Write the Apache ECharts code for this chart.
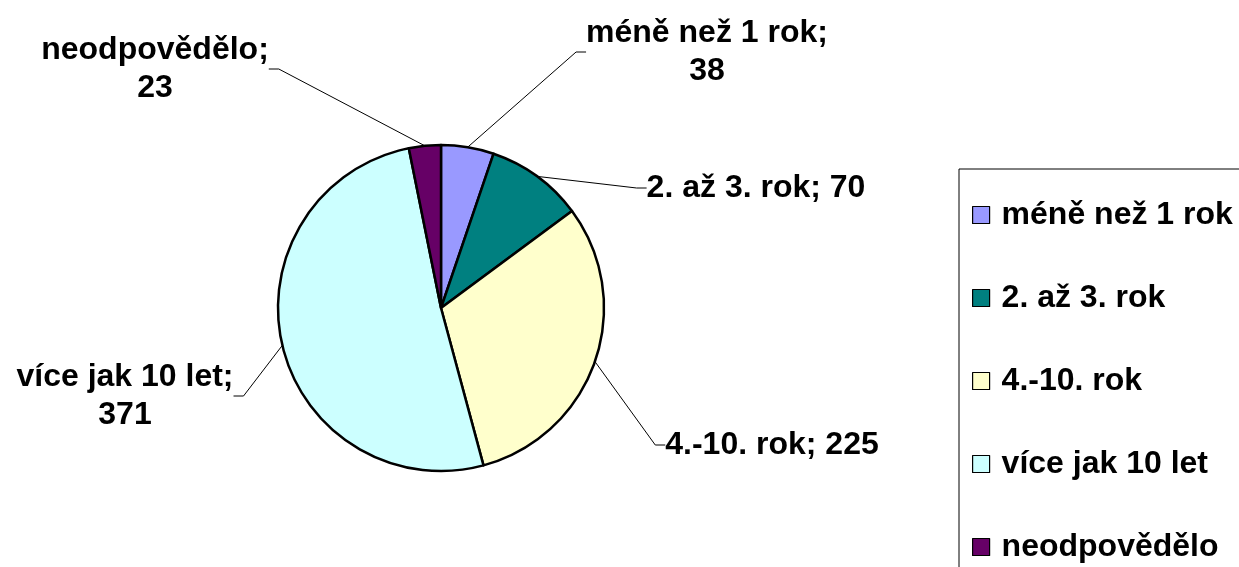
<!DOCTYPE html>
<html>
<head>
<meta charset="utf-8">
<script src="https://cdn.jsdelivr.net/npm/echarts@6/dist/echarts.min.js"></script>
<style>
  html, body { margin: 0; padding: 0; background: #fff; }
  #chart { width: 1239px; height: 567px; }
</style>
</head>
<body>
<div id="chart"></div>
<script>
const categories = ["méně než 1 rok", "2. až 3. rok", "4.-10. rok", "více jak 10 let", "neodpovědělo"];
const values = [38, 70, 225, 371, 23];
const colors = ["#9999FF", "#008080", "#FFFFCC", "#CCFFFF", "#660066"];

// label placement (layout only)
const labelPos = [[707, 52], [756, 188], [772, 445], [125, 396], [155, 69]];
const labelWrap = [true, false, false, true, true];

const font = "'Liberation Sans', Arial, sans-serif";

const myChart = echarts.init(document.getElementById("chart"));
myChart.setOption({
  animation: false,
  color: colors,
  legend: {
    orient: "vertical",
    left: 959,
    top: 169,
    height: 600,
    padding: [27, 40, 40, 13],
    borderColor: "#000",
    borderWidth: 1,
    itemWidth: 17,
    itemHeight: 17,
    itemGap: 45,
    icon: "rect",
    itemStyle: { borderColor: "#000", borderWidth: 1.2 },
    textStyle: {
      fontFamily: font,
      fontSize: 32,
      fontWeight: "bold",
      color: "#000",
      lineHeight: 38,
      padding: [0, 0, 0, 7],
    },
    selectedMode: false,
    data: categories,
  },
  series: [
    {
      type: "pie",
      center: [441, 308],
      radius: 163,
      startAngle: 90,
      clockwise: true,
      silent: true,
      data: categories.map((name, i) => ({ name: name, value: values[i] })),
      itemStyle: { borderColor: "#000", borderWidth: 2.5 },
      label: {
        show: true,
        position: "outside",
        fontFamily: font,
        fontSize: 32,
        fontWeight: "bold",
        color: "#000",
        lineHeight: 38,
        align: "center",
        formatter: (p) => p.name + (labelWrap[p.dataIndex] ? ";\n" : "; ") + p.value,
      },
      labelLine: {
        show: true,
        length: 20,
        length2: 10,
        lineStyle: { color: "#000", width: 1 },
      },
      labelLayout: (params) => {
        const pos = labelPos[params.dataIndex];
        return {
          x: pos[0],
          y: pos[1],
          align: "center",
          verticalAlign: "middle",
        };
      },
    },
  ],
});
</script>
</body>
</html>
